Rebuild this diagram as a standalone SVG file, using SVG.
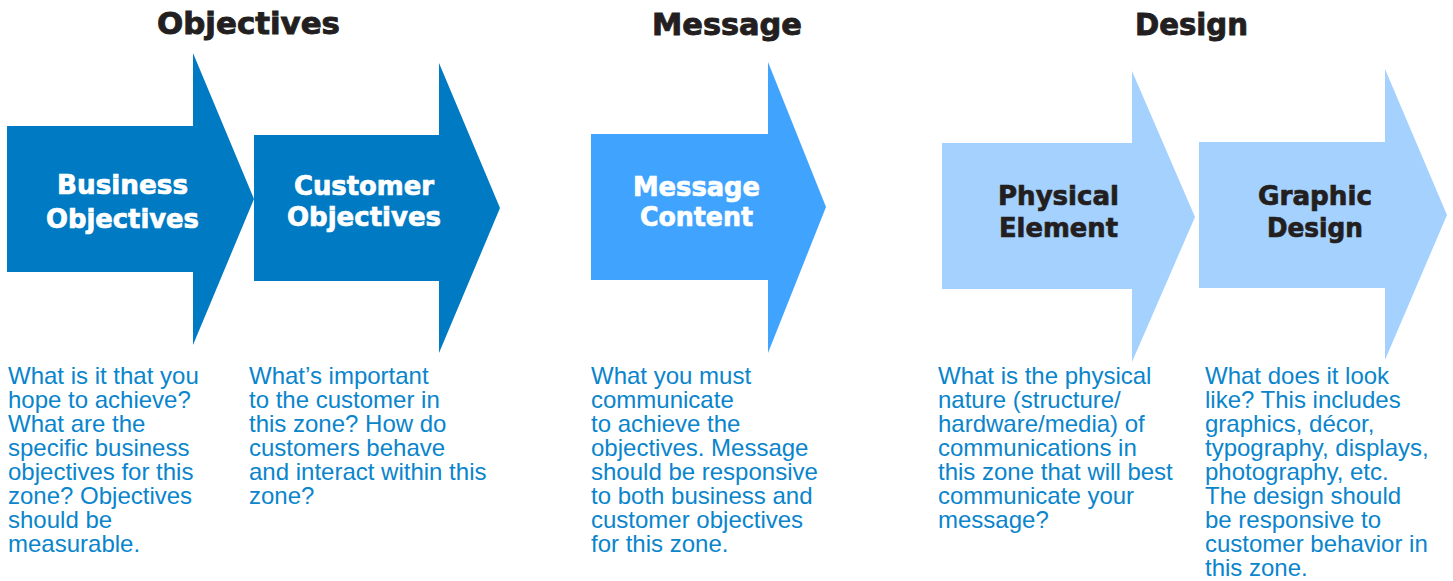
<svg xmlns="http://www.w3.org/2000/svg" width="1453" height="581" viewBox="0 0 1453 581">
<style>
.title{font-family:"DejaVu Sans","Liberation Sans",sans-serif;font-weight:bold;font-size:30px;fill:#231F20;stroke:#231F20;stroke-width:0.9px;text-anchor:middle}
.lbl{font-family:"DejaVu Sans","Liberation Sans",sans-serif;font-weight:bold;font-size:26px;text-anchor:middle;stroke-width:0.7px}
.w{fill:#FFFFFF;stroke:#FFFFFF}
.k{fill:#231F20;stroke:#231F20}
.body{font-family:"Liberation Sans",Arial,sans-serif;font-size:24px;fill:#0A85CC}
.dark{fill:#007AC3}
.mid{fill:#40A4FF}
.light{fill:#A5D1FF}
</style>
<rect width="1453" height="581" fill="#FFFFFF"/>
<g id="titles">
<text class="title" x="248.5" y="34" textLength="183" lengthAdjust="spacingAndGlyphs">Objectives</text>
<text class="title" x="727" y="35" textLength="150" lengthAdjust="spacingAndGlyphs">Message</text>
<text class="title" x="1191.5" y="35" textLength="113" lengthAdjust="spacingAndGlyphs">Design</text>
</g>
<g id="business-objectives">
<polygon class="dark" points="7,126 193,126 193,53 254,199 193,345 193,272 7,272"/>
<text class="lbl w" x="122.5" y="194" textLength="131" lengthAdjust="spacingAndGlyphs">Business</text>
<text class="lbl w" x="122.5" y="228" textLength="153" lengthAdjust="spacingAndGlyphs">Objectives</text>
<text class="body" x="8" y="384">
<tspan x="8" y="384">What is it that you</tspan>
<tspan x="8" y="408">hope to achieve?</tspan>
<tspan x="8" y="432">What are the</tspan>
<tspan x="8" y="456">specific business</tspan>
<tspan x="8" y="480">objectives for this</tspan>
<tspan x="8" y="504">zone? Objectives</tspan>
<tspan x="8" y="528">should be</tspan>
<tspan x="8" y="552">measurable.</tspan>
</text>
</g>
<g id="customer-objectives">
<polygon class="dark" points="254,135 439,135 439,63 500,208 439,353 439,281 254,281"/>
<text class="lbl w" x="364" y="195" textLength="140" lengthAdjust="spacingAndGlyphs">Customer</text>
<text class="lbl w" x="364" y="226" textLength="154" lengthAdjust="spacingAndGlyphs">Objectives</text>
<text class="body" x="249" y="384">
<tspan x="249" y="384">What’s important</tspan>
<tspan x="249" y="408">to the customer in</tspan>
<tspan x="249" y="432">this zone? How do</tspan>
<tspan x="249" y="456">customers behave</tspan>
<tspan x="249" y="480">and interact within this</tspan>
<tspan x="249" y="504">zone?</tspan>
</text>
</g>
<g id="message-content">
<polygon class="mid" points="591,134 768,134 768,62 826,207 768,353 768,280 591,280"/>
<text class="lbl w" x="696.5" y="196" textLength="127" lengthAdjust="spacingAndGlyphs">Message</text>
<text class="lbl w" x="696.5" y="226" textLength="113" lengthAdjust="spacingAndGlyphs">Content</text>
<text class="body" x="591" y="384">
<tspan x="591" y="384">What you must</tspan>
<tspan x="591" y="408">communicate</tspan>
<tspan x="591" y="432">to achieve the</tspan>
<tspan x="591" y="456">objectives. Message</tspan>
<tspan x="591" y="480">should be responsive</tspan>
<tspan x="591" y="504">to both business and</tspan>
<tspan x="591" y="528">customer objectives</tspan>
<tspan x="591" y="552">for this zone.</tspan>
</text>
</g>
<g id="physical-element">
<polygon class="light" points="942,143 1132,143 1132,71 1195,217 1132,362 1132,289 942,289"/>
<text class="lbl k" x="1058.5" y="205" textLength="121" lengthAdjust="spacingAndGlyphs">Physical</text>
<text class="lbl k" x="1058.5" y="237" textLength="119" lengthAdjust="spacingAndGlyphs">Element</text>
<text class="body" x="938" y="384">
<tspan x="938" y="384">What is the physical</tspan>
<tspan x="938" y="408">nature (structure/</tspan>
<tspan x="938" y="432">hardware/media) of</tspan>
<tspan x="938" y="456">communications in</tspan>
<tspan x="938" y="480">this zone that will best</tspan>
<tspan x="938" y="504">communicate your</tspan>
<tspan x="938" y="528">message?</tspan>
</text>
</g>
<g id="graphic-design">
<polygon class="light" points="1199,142 1385,142 1385,69 1447,215 1385,360 1385,288 1199,288"/>
<text class="lbl k" x="1315" y="205" textLength="114" lengthAdjust="spacingAndGlyphs">Graphic</text>
<text class="lbl k" x="1315" y="237" textLength="96" lengthAdjust="spacingAndGlyphs">Design</text>
<text class="body" x="1205" y="384">
<tspan x="1205" y="384">What does it look</tspan>
<tspan x="1205" y="408">like? This includes</tspan>
<tspan x="1205" y="432">graphics, décor,</tspan>
<tspan x="1205" y="456">typography, displays,</tspan>
<tspan x="1205" y="480">photography, etc.</tspan>
<tspan x="1205" y="504">The design should</tspan>
<tspan x="1205" y="528">be responsive to</tspan>
<tspan x="1205" y="552">customer behavior in</tspan>
<tspan x="1205" y="576">this zone.</tspan>
</text>
</g>
<g id="connectors"></g>
</svg>
